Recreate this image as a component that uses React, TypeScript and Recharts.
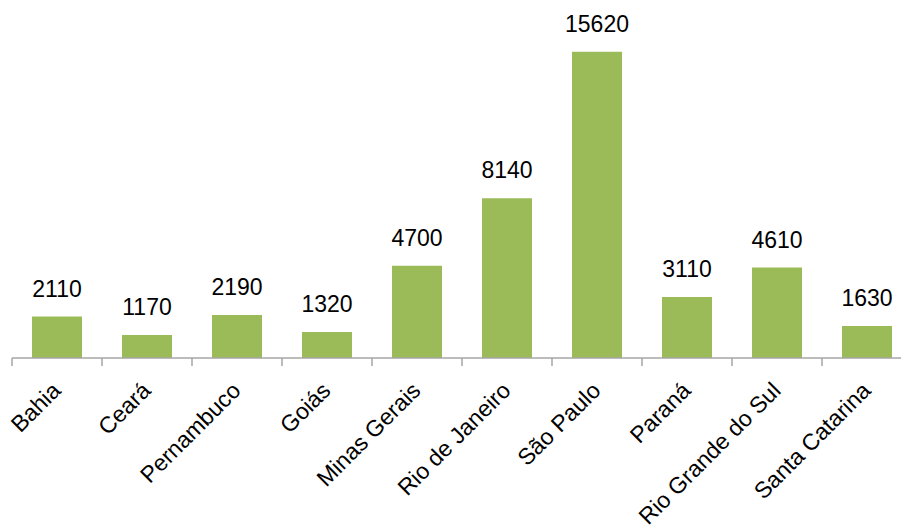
import { BarChart, Bar, XAxis, YAxis, LabelList } from 'recharts'

const states = [
    'Bahia',
    'Ceará',
    'Pernambuco',
    'Goiás',
    'Minas Gerais',
    'Rio de Janeiro',
    'São Paulo',
    'Paraná',
    'Rio Grande do Sul',
    'Santa Catarina',
]

const values = [2110, 1170, 2190, 1320, 4700, 8140, 15620, 3110, 4610, 1630]

const data = states.map((name, i) => ({ name, value: values[i] }))

const FONT = '"Liberation Sans", Arial, sans-serif'
const AXIS_COLOR = '#a6a6a6'

function StateTick(props: any) {
    const { x, y, payload, index, visibleTicksCount } = props
    const half = payload?.offset ?? 45
    const axisY = y - 8
    const tx = x + 5
    const ty = axisY + 34
    const isLast = index === (visibleTicksCount ?? states.length) - 1
    return (
        <g>
            <line x1={x - half} y1={axisY} x2={x - half} y2={axisY + 8} stroke={AXIS_COLOR} strokeWidth={1.5} />
            {isLast && (
                <line x1={x + half} y1={axisY} x2={x + half} y2={axisY + 8} stroke={AXIS_COLOR} strokeWidth={1.5} />
            )}
            <text
                x={tx}
                y={ty}
                textAnchor="end"
                transform={`rotate(-45, ${tx}, ${ty})`}
                fill="#000"
                fontSize={23}
                fontFamily={FONT}
            >
                {payload.value}
            </text>
        </g>
    )
}

export default function App() {
    return (
        <div
            style={{
                position: 'absolute',
                left: 0,
                top: 0,
                width: 901,
                height: 526,
                overflow: 'hidden',
                background: '#fff',
            }}
        >
            <BarChart
                width={930}
                height={526}
                data={data}
                margin={{ top: 5, right: 18, left: 12, bottom: 0 }}
            >
                <XAxis
                    dataKey="name"
                    interval={0}
                    height={168}
                    axisLine={{ stroke: AXIS_COLOR, strokeWidth: 1.5 }}
                    tickLine={false}
                    tickSize={6}
                    tickMargin={2}
                    tick={<StateTick />}
                />
                <YAxis hide domain={[0, 18000]} />
                <Bar dataKey="value" fill="#9bbb59" barSize={50} isAnimationActive={false}>
                    <LabelList
                        dataKey="value"
                        position="top"
                        offset={20}
                        fill="#000"
                        fontSize={23}
                        fontFamily={FONT}
                    />
                </Bar>
            </BarChart>
        </div>
    )
}
